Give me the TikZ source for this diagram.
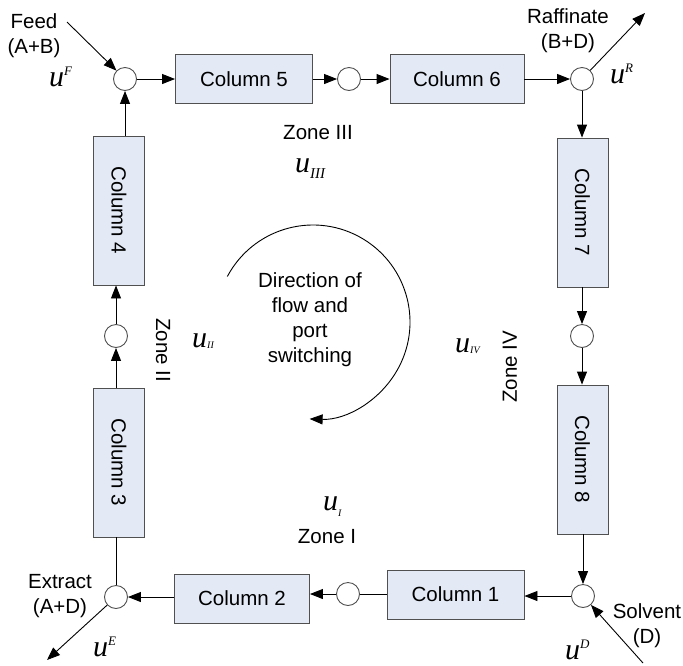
\documentclass[tikz,border=0pt]{standalone}
\usepackage{fontspec}
\setmainfont{Liberation Sans}
\newfontfamily\serifu{Liberation Serif}
\usetikzlibrary{arrows.meta}
\definecolor{boxfill}{HTML}{E3EAF6}
\definecolor{boxline}{HTML}{505050}
\newcommand\uvar{{\serifu\itshape\fontsize{30}{30}\selectfont u}}
\newcommand\usup[1]{\uvar\raisebox{11pt}{\serifu\itshape\fontsize{13}{13}\selectfont #1}}
\newcommand\usub[3]{\uvar\raisebox{-#3}{\serifu\itshape\fontsize{#2}{#2}\selectfont #1}}
\begin{document}
\begin{tikzpicture}[x=1pt,y=-1pt,
  txt/.style={font=\fontsize{20.5}{25}\selectfont, inner sep=0pt, align=center},
  col/.style={draw=boxline, fill=boxfill, line width=0.9pt, txt, minimum width=137pt, minimum height=49pt},
  vcol/.style={col, minimum width=51pt, minimum height=149pt},
  port/.style={circle, draw=boxline, fill=white, line width=0.9pt, minimum size=23pt, inner sep=0pt},
  arr/.style={-{Triangle[length=13pt,width=10pt]}, line width=0.9pt},
  ln/.style={line width=0.9pt},
  ulab/.style={anchor=base west, inner sep=0pt}
]
\useasboundingbox (0,0) rectangle (683,665);

% columns
\node[col] (c5) at (244,79) {Column 5};
\node[col, minimum width=134pt] (c6) at (457,79) {Column 6};
\node[vcol] (c7) at (582.5,212.5) {\rotatebox{-90}{Column 7}};
\node[vcol] (c8) at (582.5,459.5) {\rotatebox{-90}{Column 8}};
\node[col] (c1) at (455.5,594.5) {Column 1};
\node[col, minimum width=135pt] (c2) at (242,598.5) {Column 2};
\node[vcol] (c3) at (119,462.5) {\rotatebox{-90}{Column 3}};
\node[vcol] (c4) at (119,210.5) {\rotatebox{-90}{Column 4}};

% ports
\node[port] (F) at (125,79) {};
\node[port] (P56) at (349,79) {};
\node[port] (R) at (582,79) {};
\node[port] (P78) at (582,336) {};
\node[port] (D) at (583,596) {};
\node[port] (P12) at (348,594) {};
\node[port] (E) at (116,597) {};
\node[port] (P34) at (116,336) {};

% free ends
\coordinate (feedin) at (67,22);
\coordinate (rafout) at (645,13);
\coordinate (extout) at (47,660);
\coordinate (solvin) at (643,663);

% connectors
\draw[arr] (F) -- (c5);
\draw[arr] (c5) -- (P56);
\draw[arr] (P56) -- (c6);
\draw[arr] (c6) -- (R);
\draw[arr] (R) -- (R |- c7.north);
\draw[arr] (c7.south -| P78) -- (P78);
\draw[arr] (P78) -- (P78 |- c8.north);
\draw[arr] (c8.south -| D) -- (D);
\draw[arr] (D) -- (D -| c1.east);
\draw[ln] (c1.west |- P12) -- (P12);
\draw[arr] (P12) -- (P12 -| c2.east);
\draw[arr] (c2.west |- E) -- (E);
\draw[ln] (E) -- (E |- c3.south);
\draw[arr] (c3.north -| P34) -- (P34);
\draw[arr] (P34) -- (P34 |- c4.south);
\draw[arr] (c4.north -| F) -- (F);

\draw[arr] (feedin) -- (F);
\draw[arr] (R) -- (rafout);
\draw[arr] (E) -- (extout);
\draw[arr] (solvin) -- (D);

% stream labels
\node[txt] (feedlab) at (34,35.5) {Feed\\(A+B)};
\node[txt] (raflab) at (568,30.5) {Raffinate\\(B+D)};
\node[txt] (extlab) at (60,596.5) {Extract\\(A+D)};
\node[txt] (solvlab) at (647,626) {Solvent\\(D)};

% velocities
\node[ulab] (uF) at (49,86) {\usup{F}};
\node[ulab] (uR) at (610,83) {\usup{R}};
\node[ulab] (uE) at (93,656) {\usup{E}};
\node[ulab] (uD) at (565,659) {\usup{D}};
\node[ulab] (uIII) at (295,172) {\usub{III}{15}{6pt}};
\node[ulab] (uI) at (323,510) {\usub{I}{10}{6pt}};
\node[ulab] (uII) at (192,347) {\usub{II}{10}{1pt}};
\node[ulab] (uIV) at (455,352) {\usub{IV}{10}{1pt}};

% zones
\node[txt] (z3) at (318,133) {Zone III};
\node[txt] (z1) at (327,537) {Zone I};
\node[txt, rotate=-90] (z2) at (163,350) {Zone II};
\node[txt, rotate=90] (z4) at (510,367) {Zone IV};

% direction
\node[txt] (dir) at (310,320) {Direction of\\flow and\\port\\switching};
\draw[arr] ([shift={(-152:97)}]313,322) arc[start angle=-152, end angle=92, radius=97];
\end{tikzpicture}
\end{document}
